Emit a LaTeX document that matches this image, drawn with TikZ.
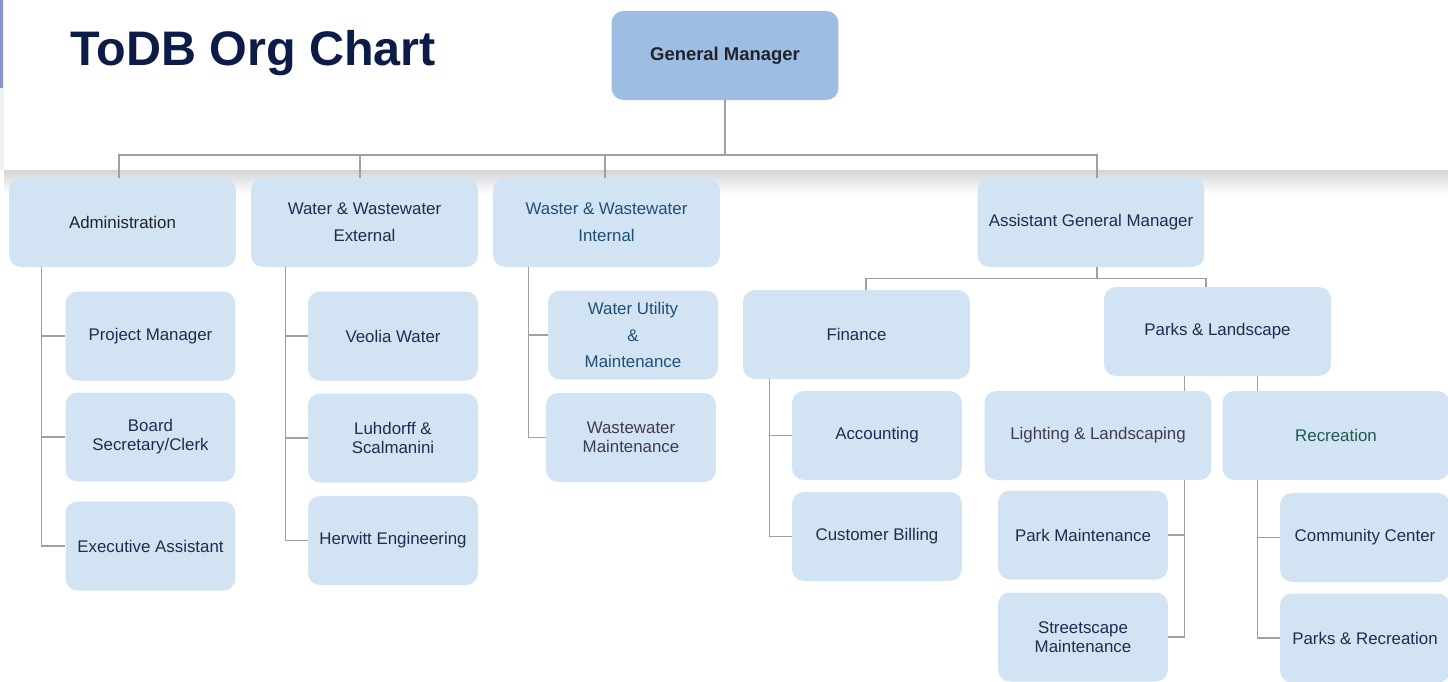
\documentclass[tikz,border=0pt]{standalone}
\usepackage{fontspec}
\setmainfont{Liberation Sans}
\usetikzlibrary{positioning, calc}
\definecolor{boxfill}{RGB}{210, 228, 243}
\definecolor{gmfill}{RGB}{157, 189, 227}
\definecolor{titlecolor}{RGB}{13, 27, 72}
\definecolor{linecolor}{RGB}{160, 160, 160}
\definecolor{navytext}{RGB}{28, 45, 80}
\definecolor{bluetext}{RGB}{31, 78, 121}
\definecolor{greytext}{RGB}{64, 58, 80}
\definecolor{tealtext}{RGB}{30, 90, 80}
\definecolor{darktext}{RGB}{34, 34, 40}
\definecolor{sidebar}{RGB}{135, 150, 200}
\definecolor{sidegrey}{RGB}{240, 241, 244}
\definecolor{shadowgrey}{RGB}{212, 213, 216}

\begin{document}
\begin{tikzpicture}[
    x=0.02cm, y=-0.02cm,
    unit/.style={rectangle, rounded corners=0.24cm, fill=boxfill, align=center, inner sep=0pt, text=navytext, font=\fontsize{9.6}{15.3}\selectfont},
    dept/.style={unit, minimum width=4.54cm, minimum height=1.78cm},
    team/.style={unit, minimum width=3.4cm, minimum height=1.78cm},
    tight/.style={font=\fontsize{9.6}{10.8}\selectfont},
    link/.style={draw=linecolor, line width=0.75pt},
]

% Page and header panel
\useasboundingbox (0,0) rectangle (1448,681);
\fill[white] (0,0) rectangle (1448,681);
\fill[sidegrey] (0,0) rectangle (4,170);
\fill[sidebar] (0,0) rectangle (3,88);
\shade[top color=shadowgrey, bottom color=white] (4,170) rectangle (1448,194);

% Title
\node[anchor=base west, inner sep=0pt, text=titlecolor, font=\fontsize{27.6}{30}\selectfont\bfseries] (title) at (70,65) {ToDB Org Chart};

% Top
\node[dept, fill=gmfill, text=darktext, font=\fontsize{10.5}{12}\selectfont\bfseries] (gm) at (725,55.5) {General Manager};

% Departments
\node[dept, text=darktext] (admin) at (122.5,222.5) {Administration};
\node[dept] (wwe) at (364.5,222.5) {Water \& Wastewater\\External};
\node[dept, text=bluetext] (wwi) at (606.5,222.5) {Waster \& Wastewater\\Internal};
\node[dept] (agm) at (1091,222.5) {Assistant General Manager};

% Administration
\node[team] (pm) at (150.5,336) {Project Manager};
\node[team, tight] (board) at (150.5,437) {Board\\Secretary/Clerk};
\node[team] (exec) at (150.5,546) {Executive Assistant};

% Water & Wastewater External
\node[team] (veolia) at (393,336) {Veolia Water};
\node[team, tight] (luhdorff) at (393,438) {Luhdorff \&\\Scalmanini};
\node[team] (herwitt) at (393,540.5) {Herwitt Engineering};

% Waster & Wastewater Internal
\node[team, text=bluetext] (utility) at (633,335) {Water Utility\\\&\\Maintenance};
\node[team, tight, text=greytext] (wwmaint) at (631,437.5) {Wastewater\\Maintenance};

% Assistant General Manager
\node[dept] (fin) at (856.5,334.5) {Finance};
\node[dept] (pl) at (1217.5,331.5) {Parks \& Landscape};

\node[team] (acct) at (877,435.5) {Accounting};
\node[team] (billing) at (877,536.5) {Customer Billing};

\node[dept, text=greytext] (ll) at (1098,435.5) {Lighting \& Landscaping};
\node[dept, text=tealtext] (rec) at (1336,435.5) {Recreation};

\node[team] (parkm) at (1083,535) {Park Maintenance};
\node[team, tight] (street) at (1083,637) {Streetscape\\Maintenance};
\node[team] (cc) at (1365,537.5) {Community Center};
\node[team] (pr) at (1365,638) {Parks \& Recreation};

% Connectors from the top
\coordinate (bus) at (725,155);
\draw[link] (gm.south) -- (gm.south |- bus);
\draw[link] ($(admin.north)+(-3.5,0)$) |- (bus) -| ($(agm.north)+(6,0)$);
\draw[link] ($(wwe.north)+(-4.5,0)$) -- ++(0,-23);
\draw[link] ($(wwi.north)+(-1.5,0)$) -- ++(0,-23);

% Spines under the departments
\coordinate (adminspine) at ($(admin.south west)+(33,0)$);
\draw[link] (adminspine) |- (pm.west);
\draw[link] (adminspine) |- (board.west);
\draw[link] (adminspine) |- (exec.west);

\coordinate (wwespine) at ($(wwe.south west)+(35,0)$);
\draw[link] (wwespine) |- (veolia.west);
\draw[link] (wwespine) |- (luhdorff.west);
\draw[link] (wwespine) |- (herwitt.west);

\coordinate (wwispine) at ($(wwi.south west)+(36,0)$);
\draw[link] (wwispine) |- (utility.west);
\draw[link] (wwispine) |- (wwmaint.west);

% Assistant General Manager branch
\draw[link] ($(agm.south)+(6,0)$) -- ++(0,11) coordinate (agmbus);
\draw[link] ($(fin.north)+(9.5,0)$) |- (agmbus) -| ($(pl.north)+(-11.5,0)$);

\coordinate (finspine) at ($(fin.south west)+(27,0)$);
\draw[link] (finspine) |- (acct.west);
\draw[link] (finspine) |- (billing.west);

\coordinate (llspine) at ($(ll.south east)+(-27,0)$);
\draw[link] (llspine |- ll.north) -- (llspine |- pl.south);
\draw[link] (llspine) |- (parkm.east);
\draw[link] (llspine) |- (street.east);

\coordinate (recspine) at ($(rec.south west)+(35,0)$);
\draw[link] (recspine |- rec.north) -- (recspine |- pl.south);
\draw[link] (recspine) |- (cc.west);
\draw[link] (recspine) |- (pr.west);

\end{tikzpicture}
\end{document}
